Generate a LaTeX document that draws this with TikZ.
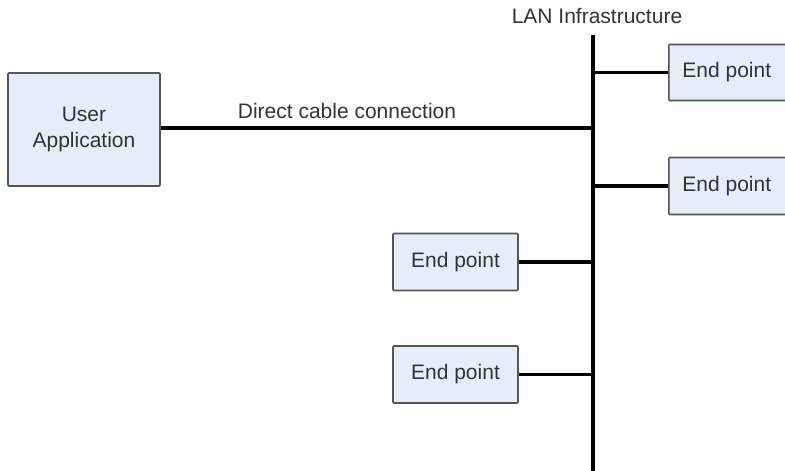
\documentclass[tikz,border=0pt]{standalone}
\usepackage{fontspec}
\setmainfont{Liberation Sans}
\definecolor{boxfill}{HTML}{E6ECF8}
\definecolor{boxline}{HTML}{555555}
\definecolor{txt}{HTML}{333333}
\begin{document}
\begin{tikzpicture}[x=1pt,y=-1pt,
  box/.style={draw=boxline,fill=boxfill,line width=1.6pt,rounded corners=1pt,inner sep=0pt,
    text=txt,font=\fontsize{21}{26}\selectfont,align=center},
  wire/.style={line width=3.6pt,black},
  lbl/.style={text=txt,font=\fontsize{21}{26}\selectfont,inner sep=0pt}]
\useasboundingbox (0,0) rectangle (785,471);
\clip (0,0) rectangle (785,471);
\node[box,minimum width=152pt,minimum height=113pt] (ua) at (84,129.5) {User\\Application};
\node[box,minimum width=128pt,minimum height=56pt,anchor=west] (e1) at (668,72.5) {\hspace*{-12pt}End point};
\node[box,minimum width=128pt,minimum height=57pt,anchor=west] (e2) at (668,186) {\hspace*{-12pt}End point};
\node[box,minimum width=125pt,minimum height=57pt] (e3) at (455.5,262) {End point};
\node[box,minimum width=125pt,minimum height=57pt] (e4) at (455.5,374.5) {End point};
\coordinate (bt) at (593,35);
\coordinate (bb) at (593,471);
\draw[wire] (bt) -- (bb);
\coordinate (j0) at (593,128);
\coordinate (j1) at (593,72.5);
\coordinate (j2) at (593,186);
\coordinate (j3) at (593,262);
\coordinate (j4) at (593,374.5);
\draw[wire] (ua.east |- j0) -- (j0);
\draw[wire] (j1) -- (e1.west);
\draw[wire] (j2) -- (e2.west);
\draw[wire] (e3.east) -- (j3);
\draw[wire] (e4.east) -- (j4);
\node[lbl] (dl) at (347,111) {Direct cable connection};
\node[lbl] (lan) at (597,16) {LAN Infrastructure};
\end{tikzpicture}
\end{document}
